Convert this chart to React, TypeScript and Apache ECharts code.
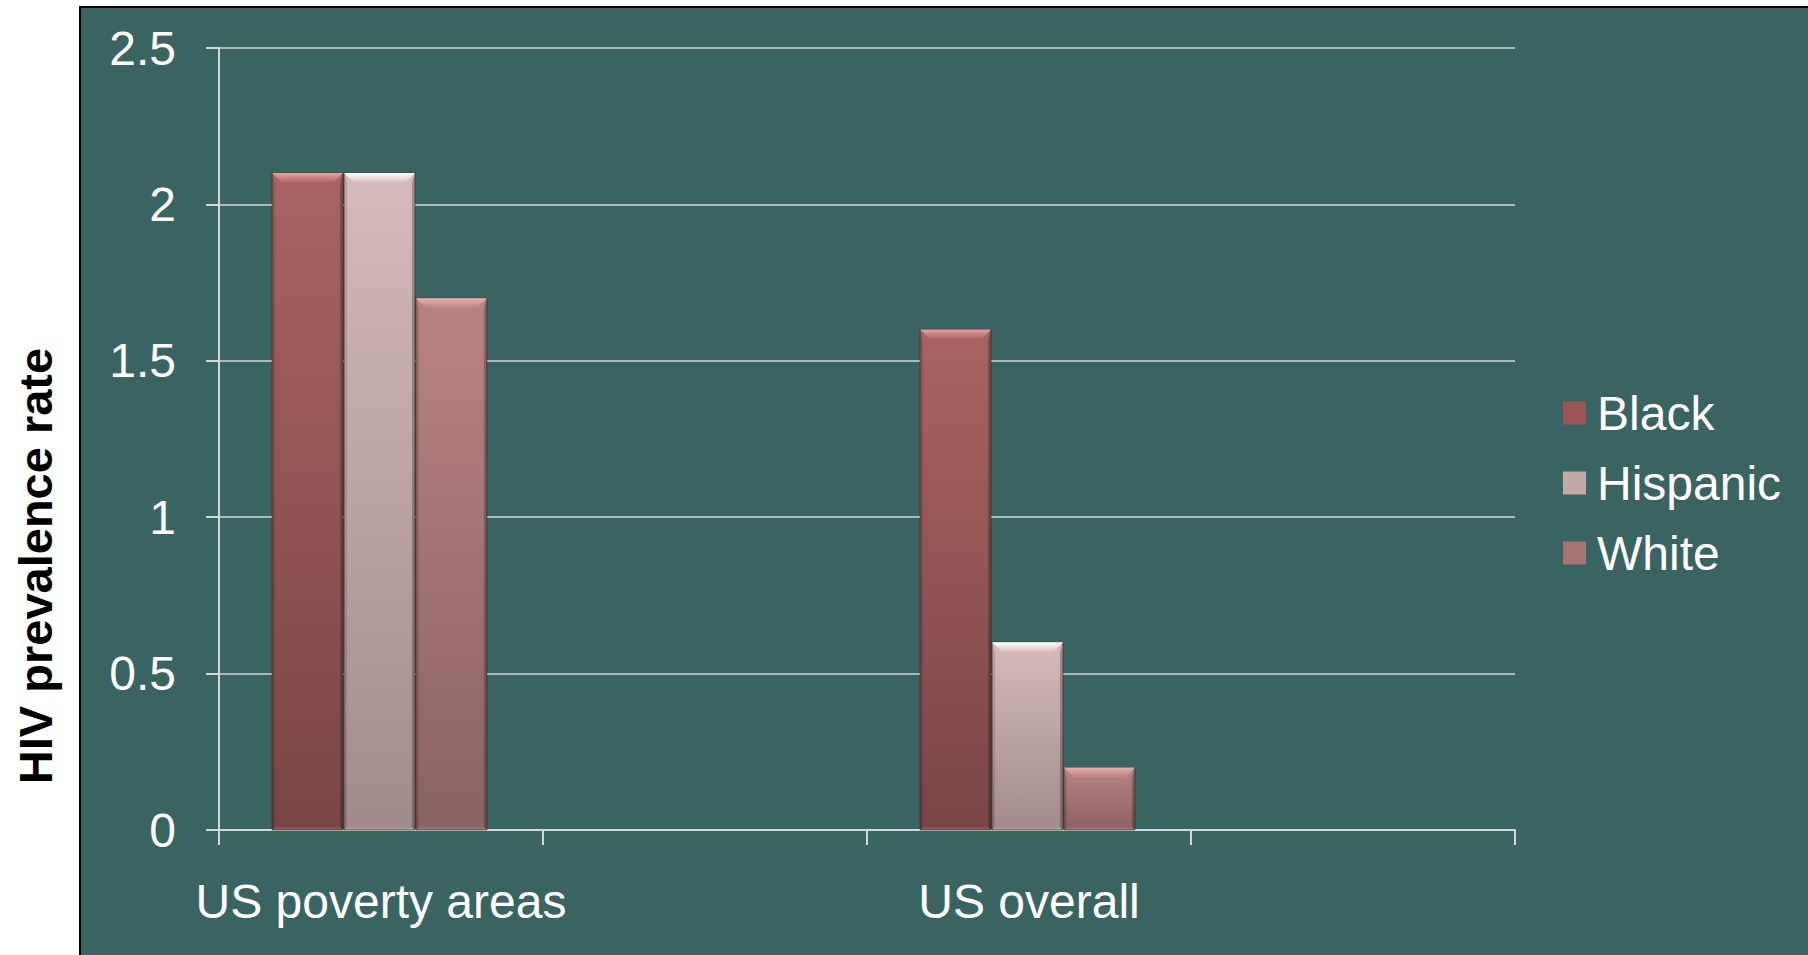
import React, { useEffect, useRef } from "react";
import * as echarts from "echarts";

const categories = ["US poverty areas", "", "US overall", ""];
const seriesNames = ["Black", "Hispanic", "White"];
const blackValues = [2.1, null, 1.6, null];
const hispanicValues = [2.1, null, 0.6, null];
const whiteValues = [1.7, null, 0.2, null];
const yTicks = { min: 0, max: 2.5, interval: 0.5 };
const yTitle = "HIV prevalence rate";

const palettes = [
  { top: "#a96363", bottom: "#7a4545", hi: "#ee9e9e", mid: "#9a5656" },
  { top: "#d6b9bb", bottom: "#a28b8b", hi: "#ffffff", mid: "#c4a8a8" },
  { top: "#b98383", bottom: "#8c6262", hi: "#efacac", mid: "#a87474" },
];

const FONT = "'Liberation Sans', Arial, sans-serif";

function makeRender(sIdx: number) {
  const p = palettes[sIdx];
  return (params: any, api: any) => {
    const cat = api.value(0);
    const val = api.value(1);
    const top = api.coord([cat, val]);
    const base = api.coord([cat, 0]);
    const catW = api.size([1, 0])[0];
    const bw = catW * 0.222;
    const x0 = top[0] + (sIdx - 1.5) * bw - 1;
    const x1 = x0 + bw - 1;
    const yT = top[1];
    const yB = base[1];
    const b = Math.min(10, (yB - yT) / 2);
    const s = 3;
    return {
      type: "group",
      children: [
        {
          type: "rect",
          shape: { x: x0, y: yT, width: x1 - x0, height: yB - yT },
          style: {
            fill: new echarts.graphic.LinearGradient(0, 0, 0, 1, [
              { offset: 0, color: p.top },
              { offset: 1, color: p.bottom },
            ]),
            stroke: "rgba(50,25,25,0.55)",
            lineWidth: 1,
          },
        },
        {
          type: "polygon",
          shape: { points: [[x0, yT], [x1, yT], [x1 - b, yT + b], [x0 + b, yT + b]] },
          style: {
            fill: new echarts.graphic.LinearGradient(0, 0, 0, 1, [
              { offset: 0, color: p.hi },
              { offset: 1, color: p.top },
            ]),
          },
        },
        {
          type: "polygon",
          shape: { points: [[x1, yT], [x1, yB], [x1 - s, yB - s], [x1 - s, yT + b]] },
          style: { fill: "rgba(40,15,15,0.28)" },
        },
        {
          type: "polygon",
          shape: { points: [[x0, yT], [x0 + s, yT + b], [x0 + s, yB - s], [x0, yB]] },
          style: { fill: "rgba(40,15,15,0.15)" },
        },
        {
          type: "polygon",
          shape: { points: [[x0, yB], [x1, yB], [x1 - s, yB - s], [x0 + s, yB - s]] },
          style: { fill: "rgba(255,255,255,0.10)" },
        },
      ],
    };
  };
}

function toPairs(vals: (number | null)[]) {
  return vals.map((v, i) => (v == null ? null : [i, v])).filter((d) => d != null);
}

export default function App() {
  const ref = useRef<HTMLDivElement>(null);
  useEffect(() => {
    if (!ref.current) return;
    const chart = echarts.init(ref.current, null, { renderer: "svg" });
    const allVals = [blackValues, hispanicValues, whiteValues];
    chart.setOption({
      animation: false,
      backgroundColor: "#ffffff",
      textStyle: { fontFamily: FONT },
      graphic: [
        {
          type: "rect",
          z: -100,
          silent: true,
          shape: { x: 80, y: 7, width: 1760, height: 980 },
          style: { fill: "#3a6462", stroke: "#000000", lineWidth: 2 },
        },
        {
          type: "text",
          x: 35,
          y: 566,
          rotation: Math.PI / 2,
          style: {
            text: yTitle,
            fill: "#000000",
            font: `bold 47px ${FONT}`,
            textAlign: "center",
            textVerticalAlign: "middle",
          },
        },
      ],
      grid: { left: 219, right: 293, top: 48, bottom: 125, containLabel: false },
      legend: {
        orient: "vertical",
        left: 1558,
        top: 384,
        itemWidth: 23,
        itemHeight: 23,
        itemGap: 22,
        icon: "rect",
        data: seriesNames,
        textStyle: {
          color: "#ffffff",
          fontSize: 48,
          lineHeight: 47,
          fontFamily: FONT,
          padding: [0, 0, 0, 6],
        },
      },
      xAxis: {
        type: "category",
        data: categories,
        boundaryGap: true,
        axisLine: { show: true, lineStyle: { color: "#cfd9d7", width: 2 } },
        axisTick: { show: true, length: 15, interval: 0, lineStyle: { color: "#cfd9d7", width: 2 } },
        axisLabel: { color: "#ffffff", fontSize: 48, margin: 47, interval: 0, fontFamily: FONT },
        splitLine: { show: false },
      },
      yAxis: {
        type: "value",
        min: yTicks.min,
        max: yTicks.max,
        interval: yTicks.interval,
        axisLine: { show: true, lineStyle: { color: "#cfd9d7", width: 2 } },
        axisTick: { show: true, length: 13, lineStyle: { color: "#cfd9d7", width: 2 } },
        axisLabel: { color: "#ffffff", fontSize: 48, margin: 43, fontFamily: FONT },
        splitLine: { show: true, lineStyle: { color: "#cfd9d7", width: 1.5 } },
      },
      series: seriesNames.map((name, i) => ({
        name,
        type: "custom",
        renderItem: makeRender(i),
        encode: { x: 0, y: 1 },
        itemStyle: { color: palettes[i].mid },
        data: toPairs(allVals[i]),
        z: 3,
      })),
    });
    return () => chart.dispose();
  }, []);
  return (
    <div
      ref={ref}
      style={{ position: "absolute", left: 0, top: 0, width: 1808, height: 955 }}
    />
  );
}
